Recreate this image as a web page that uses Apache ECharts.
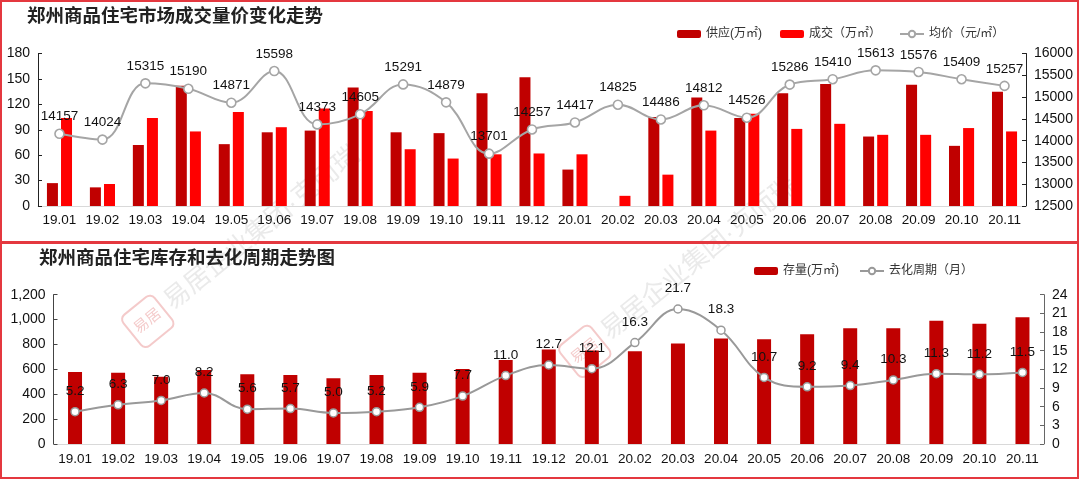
<!DOCTYPE html>
<html>
<head>
<meta charset="utf-8">
<script src="https://cdn.jsdelivr.net/npm/echarts@6/dist/echarts.min.js"></script>
<style>
html,body{margin:0;padding:0;background:#fff;}
#c{width:1080px;height:480px;}
</style>
</head>
<body>
<div id="c"></div>
<script>
// ---- data ----
const categories = ['19.01','19.02','19.03','19.04','19.05','19.06','19.07','19.08','19.09','19.10','19.11','19.12',
  '20.01','20.02','20.03','20.04','20.05','20.06','20.07','20.08','20.09','20.10','20.11'];
const supply = [27, 22, 72, 142, 73, 87, 89, 140, 87, 86, 133, 152, 43, 0, 105, 128, 104, 133, 144, 82, 143, 71, 135];
const deal   = [104, 26, 104, 88, 111, 93, 115, 112, 67, 56, 61, 62, 61, 12, 37, 89, 109, 91, 97, 84, 84, 92, 88];
const avgPrice = [14157, 14024, 15315, 15190, 14871, 15598, 14373, 14605, 15291, 14879, 13701, 14257,
  14417, 14825, 14486, 14812, 14526, 15286, 15410, 15613, 15576, 15409, 15257];
const stock = [579, 573, 541, 595, 560, 555, 528, 555, 573, 603, 675, 759, 751, 746, 807, 847, 842, 882, 930, 930, 991, 967, 1018];
const cycle = [5.2, 6.3, 7.0, 8.2, 5.6, 5.7, 5.0, 5.2, 5.9, 7.7, 11.0, 12.7, 12.1, 16.3, 21.7, 18.3, 10.7, 9.2, 9.4, 10.3, 11.3, 11.2, 11.5];

const title1 = '郑州商品住宅市场成交量价变化走势';
const title2 = '郑州商品住宅库存和去化周期走势图';
const nSupply = '供应(万㎡)', nDeal = '成交（万㎡）', nPrice = '均价（元/㎡）';
const nStock = '存量(万㎡)', nCycle = '去化周期（月）';
const watermark = '易居企业集团·克而瑞';

const FONT = "Arial, 'Liberation Sans', 'Noto Sans CJK SC', sans-serif";
const DARK = '#C00000', RED = '#FF0000', GRAY = '#A5A5A5', BORDER = '#E4383F';

const chart = echarts.init(document.getElementById('c'), null, {renderer: 'canvas'});

function valAxis(gridIndex, pos, min, max, interval, fmt, lineColor) {
  return {
    type: 'value', gridIndex: gridIndex, position: pos, min: min, max: max, interval: interval,
    splitLine: {show: false},
    axisLine: {show: true, lineStyle: {color: lineColor, width: 1}},
    axisTick: {show: true, inside: true, length: 4, lineStyle: {color: lineColor}},
    axisLabel: {color: '#111', fontSize: 14, fontFamily: FONT, margin: 8, formatter: fmt}
  };
}
function catAxis(gridIndex, margin) {
  return {
    type: 'category', gridIndex: gridIndex, data: categories,
    axisLine: {show: true, lineStyle: {color: '#D9D9D9', width: 1}},
    axisTick: {show: false},
    axisLabel: {color: '#111', fontSize: 13.5, fontFamily: FONT, margin: margin, interval: 0}
  };
}
const plain = v => String(v);
const comma = v => v.toLocaleString('en-US');

function wmText(x, y, rot) {
  return {
    type: 'group', x: x, y: y, rotation: rot, silent: true, z: 0,
    children: [
      {type: 'rect', shape: {x: -46, y: -20, width: 40, height: 40, r: 6},
       style: {fill: 'rgba(0,0,0,0)', stroke: 'rgba(220,80,80,0.3)', lineWidth: 2}},
      {type: 'text', x: -26, y: 0, style: {text: '易居', fontSize: 15, fontFamily: FONT,
        fill: 'rgba(220,80,80,0.3)', align: 'center', verticalAlign: 'middle'}},
      {type: 'text', x: 0, y: 0, style: {text: watermark, fontSize: 26, fontFamily: FONT,
        fill: 'rgba(150,150,150,0.2)', align: 'left', verticalAlign: 'middle'}}
    ]
  };
}

const option = {
  backgroundColor: '#fff',
  animation: false,
  textStyle: {fontFamily: FONT},
  title: [
    {text: title1, left: 22, top: 3, textStyle: {fontSize: 18.5, fontWeight: 'bold', color: '#222', fontFamily: FONT}},
    {text: title2, left: 34, top: 245, textStyle: {fontSize: 18.5, fontWeight: 'bold', color: '#222', fontFamily: FONT}}
  ],
  legend: [
    {data: [nSupply, nDeal, nPrice], left: 672, top: 23, itemWidth: 24, itemHeight: 8, itemGap: 18,
     textStyle: {fontSize: 12, color: '#333', fontFamily: FONT}},
    {data: [nStock, nCycle], left: 749, top: 260, itemWidth: 24, itemHeight: 8, itemGap: 20,
     textStyle: {fontSize: 12, color: '#333', fontFamily: FONT}}
  ],
  grid: [
    {left: 38, top: 53.5, width: 988, height: 152.5},
    {left: 53.5, top: 294.7, width: 990.5, height: 149.3}
  ],
  xAxis: [catAxis(0, 8), catAxis(1, 9)],
  yAxis: [
    valAxis(0, 'left', 0, 180, 30, plain, '#222'),
    valAxis(0, 'right', 12500, 16000, 500, plain, '#222'),
    valAxis(1, 'left', 0, 1200, 200, comma, '#444'),
    valAxis(1, 'right', 0, 24, 3, plain, '#666')
  ],
  graphic: [
    {type: 'rect', shape: {x: 1, y: 1, width: 1077, height: 241}, style: {fill: 'none', stroke: BORDER, lineWidth: 2}, silent: true, z: 100},
    {type: 'rect', shape: {x: 1, y: 243, width: 1077, height: 235}, style: {fill: 'none', stroke: BORDER, lineWidth: 2}, silent: true, z: 100},
    wmText(168, 305, 0.68),
    wmText(605, 335, 0.68)
  ],
  series: [
    {name: nSupply, type: 'bar', xAxisIndex: 0, yAxisIndex: 0, data: supply, barWidth: 11, barGap: '28%',
     itemStyle: {color: DARK}},
    {name: nDeal, type: 'bar', xAxisIndex: 0, yAxisIndex: 0, data: deal, barWidth: 11, barGap: '28%',
     itemStyle: {color: RED}},
    {name: nPrice, type: 'line', xAxisIndex: 0, yAxisIndex: 1, data: avgPrice, smooth: 0.4,
     symbol: 'circle', symbolSize: 9, z: 5,
     lineStyle: {color: GRAY, width: 2},
     itemStyle: {color: '#fff', borderColor: GRAY, borderWidth: 1.6},
     label: {show: true, position: 'top', distance: 5, color: '#111', fontSize: 13.5, fontFamily: FONT}},
    {name: nStock, type: 'bar', xAxisIndex: 1, yAxisIndex: 2, data: stock, barWidth: 14,
     itemStyle: {color: DARK}},
    {name: nCycle, type: 'line', xAxisIndex: 1, yAxisIndex: 3, data: cycle, smooth: 0.4,
     symbol: 'circle', symbolSize: 8, z: 5,
     lineStyle: {color: '#999', width: 2},
     itemStyle: {color: '#fff', borderColor: '#999', borderWidth: 1.5},
     label: {show: true, position: 'top', distance: 9, color: '#111', fontSize: 13.5, fontFamily: FONT,
       formatter: p => p.value.toFixed(1)}}
  ]
};
chart.setOption(option);
</script>
</body>
</html>
